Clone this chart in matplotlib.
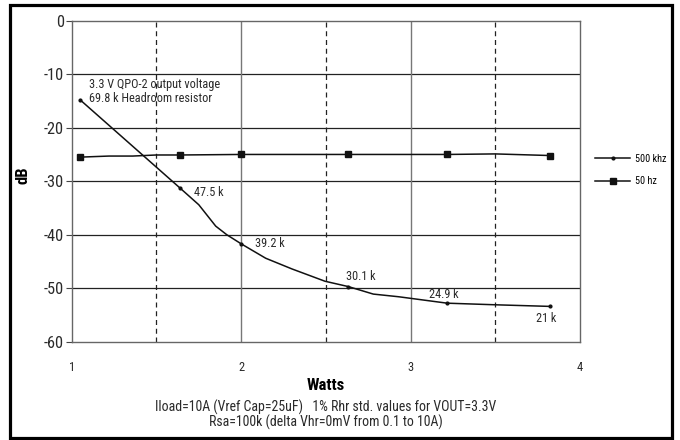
import matplotlib
matplotlib.use("Agg")
import matplotlib.pyplot as plt
from matplotlib.patches import Rectangle

plt.rcParams['font.family'] = ['Roboto Condensed', 'Liberation Sans Narrow', 'Liberation Sans', 'DejaVu Sans']

# ---- data ----
x500 = [1.05, 1.64, 1.75, 1.85, 1.915, 2.00, 2.145, 2.30, 2.495, 2.633, 2.78, 2.93, 3.216, 3.50, 3.82]
y500 = [-14.8, -31.3, -34.4, -38.4, -40.0, -41.7, -44.4, -46.4, -48.7, -49.7, -51.1, -51.6, -52.8, -53.1, -53.4]
key500 = [0, 1, 5, 9, 12, 14]
labels500 = ["69.8 k Headroom resistor", "47.5 k", "39.2 k", "30.1 k", "24.9 k", "21 k"]
label_offsets = [(6.3, 0.7), (10, -2.9), (10, 0), (-1.4, 7.2), (-13, 6), (-9.4, -8.4)]

x50 = [1.05, 1.22, 1.36, 1.50, 1.64, 2.00, 2.633, 3.216, 3.50, 3.82]
y50 = [-25.5, -25.3, -25.3, -25.1, -25.1, -25.0, -25.0, -25.0, -24.9, -25.2]
key50 = [0, 4, 5, 6, 7, 9]

series_names = ["500 khz", "50 hz"]
xticks = [1, 2, 3, 4]
yticks = [0, -10, -20, -30, -40, -50, -60]
solid_vgrid = [2, 3]
dashed_vgrid = [1.5, 2.5, 3.5]
hgrid = [-10, -20, -30, -40, -50]

title_note = "3.3 V QPO-2 output voltage"
footer1 = "Iload=10A (Vref Cap=25uF)   1% Rhr std. values for VOUT=3.3V"
footer2 = "Rsa=100k (delta Vhr=0mV from 0.1 to 10A)"

# ---- figure ----
fig = plt.figure(figsize=(6.8, 4.4), dpi=100)
ax = fig.add_axes([71.7/680, 1 - 341.7/440, (580 - 71.7)/680, (341.7 - 20.7)/440])

ax.set_xlim(1, 4)
ax.set_ylim(-60, 0)

for g in hgrid:
    ax.axhline(g, color='#222222', lw=0.9, zorder=1)
for g in solid_vgrid:
    ax.axvline(g, color='#777777', lw=1.0, zorder=1)
for g in dashed_vgrid:
    ax.axvline(g, color='#222222', lw=0.9, ls=(0, (4, 3)), zorder=1)

l1, = ax.plot(x500, y500, color='#111111', lw=1.1, marker='.', ms=4,
              markevery=key500, zorder=3, label=series_names[0])
l2, = ax.plot(x50, y50, color='#111111', lw=1.1, marker='s', ms=4.3,
              markevery=key50, zorder=3, label=series_names[1])

for idx, lab, off in zip(key500, labels500, label_offsets):
    ax.annotate(lab, (x500[idx], y500[idx]), xytext=off, textcoords='offset points',
                ha='left', va='center', fontsize=8.8, color='#2a2a2a')
ax.annotate(title_note, (x500[0], y500[0]), xytext=(6.6, 11.3), textcoords='offset points',
            ha='left', va='center', fontsize=8.8, color='#2a2a2a')

ax.set_xticks(xticks)
ax.set_yticks(yticks)
ax.set_xticklabels([str(t) for t in xticks], fontsize=9, color='#2a2a2a')
ax.set_yticklabels([str(t) for t in yticks], fontsize=11.8, color='#2a2a2a')
ax.tick_params(axis='x', length=0, pad=14)
ax.tick_params(axis='y', length=4, width=0.8, pad=1.5, color='#444444')

for s in ax.spines.values():
    s.set_color('#666666')
    s.set_linewidth(1.0)

ax.set_ylabel("dB", fontsize=12, fontweight='bold')
ax.yaxis.set_label_coords(-0.081, 0.52)

ax.text(0.5, -(385 - 341.7)/321, "Watts", transform=ax.transAxes, ha='center', va='center',
        fontsize=12, fontweight='bold')
ax.text(0.5, -(407 - 341.7)/321, footer1, transform=ax.transAxes, ha='center', va='center',
        fontsize=10, color='#2a2a2a')
ax.text(0.5, -(422 - 341.7)/321, footer2, transform=ax.transAxes, ha='center', va='center',
        fontsize=10, color='#2a2a2a')

fig.legend(handles=[l1, l2], loc='center left', bbox_to_anchor=(595/680, 1 - 170/440),
           frameon=False, fontsize=7.3, handlelength=3.5, handletextpad=0.4,
           labelspacing=1.25, borderpad=0, borderaxespad=0, markerscale=1.0)

fig.patches.append(Rectangle((10/680, 2/440), 662/680, 433/440, transform=fig.transFigure,
                             fill=False, lw=2.3, edgecolor='black'))

fig.savefig("out.png", dpi=100)
